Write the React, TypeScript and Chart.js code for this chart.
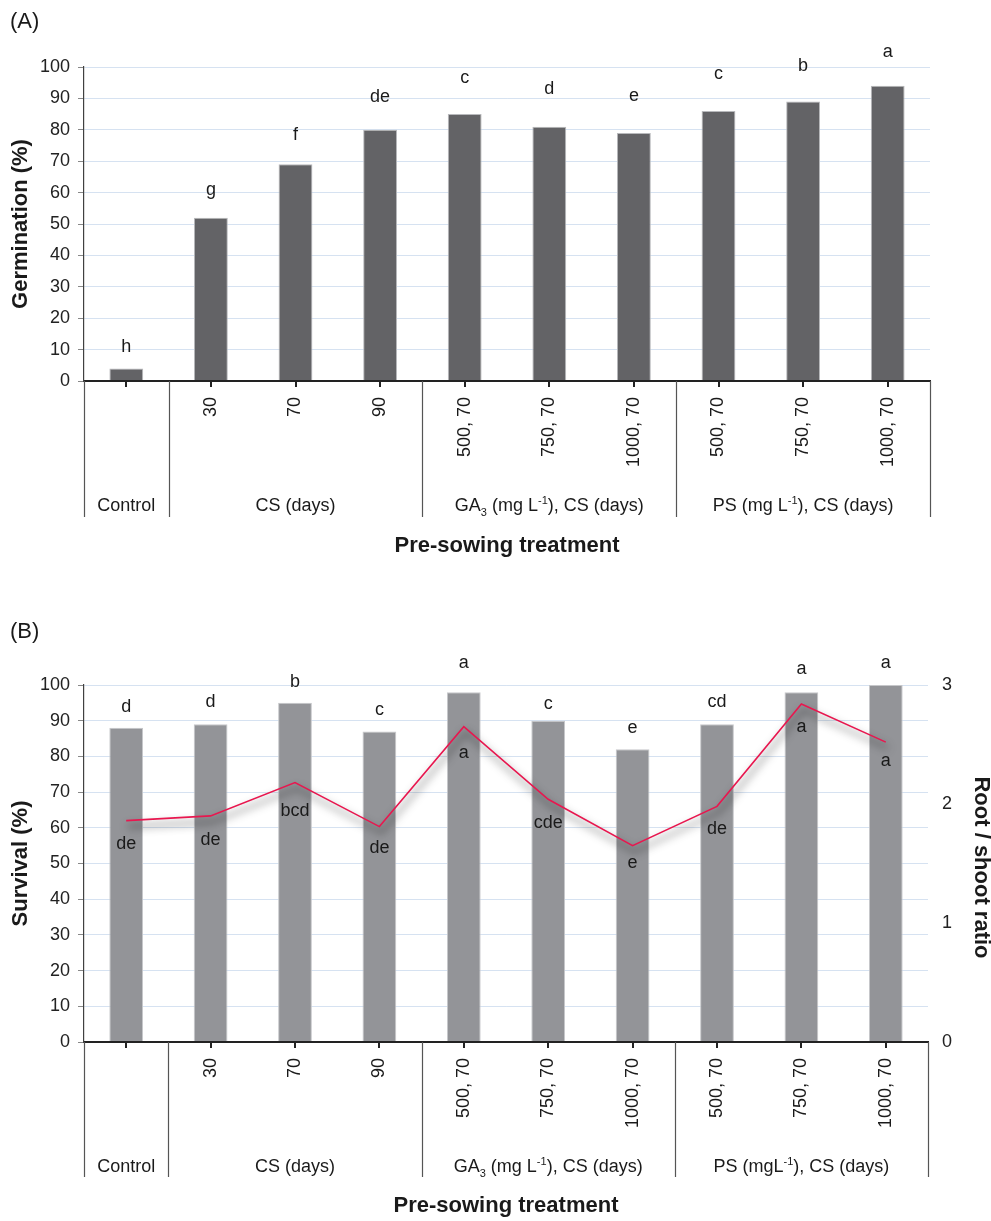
import React, { useEffect, useRef } from 'react';
import { Chart, registerables } from 'chart.js';

Chart.register(...registerables);

const FONT = "'Liberation Sans', Arial, Helvetica, sans-serif";

// ---------- data ----------
const categories = ['', '30', '70', '90', '500, 70', '750, 70', '1000, 70', '500, 70', '750, 70', '1000, 70'];
const groupSizes = [1, 3, 3, 3];

type Seg = { t: string; sub?: boolean; sup?: boolean };
const groupLabelsA: Seg[][] = [
  [{ t: 'Control' }],
  [{ t: 'CS (days)' }],
  [{ t: 'GA' }, { t: '3', sub: true }, { t: ' (mg L' }, { t: '-1', sup: true }, { t: '), CS (days)' }],
  [{ t: 'PS (mg L' }, { t: '-1', sup: true }, { t: '), CS (days)' }],
];
const groupLabelsB: Seg[][] = [
  [{ t: 'Control' }],
  [{ t: 'CS (days)' }],
  [{ t: 'GA' }, { t: '3', sub: true }, { t: ' (mg L' }, { t: '-1', sup: true }, { t: '), CS (days)' }],
  [{ t: 'PS (mgL' }, { t: '-1', sup: true }, { t: '), CS (days)' }],
];

const germination = [4, 52, 69, 80, 85, 81, 79, 86, 89, 94];
const germLetters = ['h', 'g', 'f', 'de', 'c', 'd', 'e', 'c', 'b', 'a'];
const germLetterPos = [10.7, 60.7, 78.3, 90.5, 96.4, 92.9, 90.7, 97.7, 100.2, 104.7];

const survival = [88, 89, 95, 87, 98, 90, 82, 89, 98, 100];
const survLetters = ['d', 'd', 'b', 'c', 'a', 'c', 'e', 'cd', 'a', 'a'];
const survLetterPos = [93.8, 95.2, 100.8, 93.0, 106.1, 94.8, 87.9, 95.2, 104.4, 106.1];

const ratio = [1.86, 1.9, 2.18, 1.81, 2.65, 2.04, 1.65, 1.98, 2.84, 2.52];
const ratioLetters = ['de', 'de', 'bcd', 'de', 'a', 'cde', 'e', 'de', 'a', 'a'];
const ratioLetterPos = [1.66, 1.7, 1.94, 1.63, 2.43, 1.84, 1.5, 1.79, 2.65, 2.36];

const pctMin = 0;
const pctMax = 100;
const pctStep = 10;
const ratioMin = 0;
const ratioMax = 3;
const ratioStep = 1;

// ---------- helpers ----------
function drawRich(ctx: CanvasRenderingContext2D, segs: Seg[], cx: number, cy: number, size: number) {
  const small = Math.round(size * 0.6);
  let total = 0;
  const widths: number[] = [];
  for (const s of segs) {
    ctx.font = `${s.sub || s.sup ? small : size}px ${FONT}`;
    const w = ctx.measureText(s.t).width;
    widths.push(w);
    total += w;
  }
  let x = cx - total / 2;
  const base = cy + size * 0.36;
  ctx.textAlign = 'left';
  ctx.textBaseline = 'alphabetic';
  segs.forEach((s, i) => {
    ctx.font = `${s.sub || s.sup ? small : size}px ${FONT}`;
    const dy = s.sub ? size * 0.25 : s.sup ? -size * 0.4 : 0;
    ctx.fillText(s.t, x, base + dy);
    x += widths[i];
  });
}

type DecorOpts = {
  panel: string;
  panelY: number;
  yTitle: string;
  y2Title?: string;
  groups: Seg[][];
  sepBottom: number;
  groupY: number;
  xTitleY: number;
  letterSets: { letters: string[]; pos: number[]; axis: string }[];
};

function makeDecor(o: DecorOpts) {
  return {
    id: 'decor',
    afterDraw(chart: any) {
      const ctx: CanvasRenderingContext2D = chart.ctx;
      const ca = chart.chartArea;
      const xs = chart.scales.x;
      ctx.save();
      ctx.fillStyle = '#1a1a1a';

      // panel label
      ctx.font = `22px ${FONT}`;
      ctx.textAlign = 'left';
      ctx.textBaseline = 'middle';
      ctx.fillText(o.panel, 10, o.panelY);

      // y titles
      const midY = (ca.top + ca.bottom) / 2;
      ctx.font = `bold 22px ${FONT}`;
      ctx.textAlign = 'center';
      ctx.save();
      ctx.translate(21, midY);
      ctx.rotate(-Math.PI / 2);
      ctx.fillText(o.yTitle, 0, 0);
      ctx.restore();
      if (o.y2Title) {
        ctx.save();
        ctx.translate(981, midY + 4);
        ctx.rotate(Math.PI / 2);
        ctx.fillText(o.y2Title, 0, 0);
        ctx.restore();
      }

      // category labels (rotated)
      ctx.font = `18px ${FONT}`;
      categories.forEach((c, i) => {
        const x = xs.getPixelForValue(i);
        ctx.save();
        ctx.translate(x, ca.bottom + 16);
        ctx.rotate(-Math.PI / 2);
        ctx.textAlign = 'right';
        ctx.textBaseline = 'middle';
        ctx.fillText(c, 0, 0);
        ctx.restore();
      });

      // group separators
      const bounds: number[] = [ca.left];
      let idx = 0;
      groupSizes.forEach((n, gi) => {
        idx += n;
        if (gi < groupSizes.length - 1) {
          bounds.push((xs.getPixelForValue(idx - 1) + xs.getPixelForValue(idx)) / 2);
        }
      });
      bounds.push(ca.right);
      ctx.strokeStyle = '#555';
      ctx.lineWidth = 1.2;
      bounds.forEach((bx) => {
        const px = Math.round(bx) + 0.5;
        ctx.beginPath();
        ctx.moveTo(px, ca.bottom);
        ctx.lineTo(px, o.sepBottom);
        ctx.stroke();
      });

      // group labels
      o.groups.forEach((g, gi) => {
        const cx = (bounds[gi] + bounds[gi + 1]) / 2;
        drawRich(ctx, g, cx, o.groupY, 18);
      });

      // x title
      ctx.font = `bold 22px ${FONT}`;
      ctx.textAlign = 'center';
      ctx.textBaseline = 'middle';
      ctx.fillText('Pre-sowing treatment', (ca.left + ca.right) / 2, o.xTitleY);

      // letters
      ctx.font = `18px ${FONT}`;
      o.letterSets.forEach((ls) => {
        const ys = chart.scales[ls.axis];
        ls.letters.forEach((l, i) => {
          ctx.fillText(l, xs.getPixelForValue(i), ys.getPixelForValue(ls.pos[i]));
        });
      });
      ctx.restore();
    },
  };
}

const shadowPlugin = {
  id: 'lineShadow',
  beforeDatasetDraw(chart: any, args: any) {
    const ds = chart.data.datasets[args.index];
    if (ds.type === 'line') {
      const ctx = chart.ctx;
      ctx.save();
      ctx.shadowColor = 'rgba(0,0,0,0.8)';
      ctx.shadowBlur = 8;
      ctx.shadowOffsetX = 2;
      ctx.shadowOffsetY = 6;
    }
  },
  afterDatasetDraw(chart: any, args: any) {
    const ds = chart.data.datasets[args.index];
    if (ds.type === 'line') chart.ctx.restore();
  },
};

const xScale = {
  type: 'category',
  offset: true,
  grid: { display: true, offset: false, drawOnChartArea: false, drawTicks: true, tickLength: 6, tickColor: '#222', lineWidth: 2 },
  border: { display: true, color: '#222', width: 2, z: 1 },
  ticks: { display: false },
  afterFit: (s: any) => { s.height = 20; },
};

const yPctScale = {
  min: pctMin,
  max: pctMax,
  ticks: { stepSize: pctStep, font: { size: 18, family: FONT }, color: '#222', padding: 8 },
  grid: { color: '#d6e2f1', lineWidth: 1, tickLength: 6, tickColor: '#888' },
  border: { color: '#404040', width: 1.2, z: 1 },
  afterFit: (s: any) => { s.width = 84; },
};

export default function App() {
  const refA = useRef<HTMLCanvasElement>(null);
  const refB = useRef<HTMLCanvasElement>(null);

  useEffect(() => {
    Chart.defaults.font.family = FONT;
    const chartA = new Chart(refA.current!, {
      type: 'bar',
      data: {
        labels: categories,
        datasets: [
          {
            data: germination,
            backgroundColor: '#636366',
            borderColor: '#b8b9bc',
            borderWidth: 1,
            barPercentage: 0.4,
            categoryPercentage: 1,
          },
        ],
      },
      options: {
        responsive: false,
        animation: false,
        plugins: { legend: { display: false }, tooltip: { enabled: false } },
        layout: { padding: { top: 67, bottom: 199, left: 0, right: 61 } },
        scales: { x: xScale as any, y: yPctScale as any },
      },
      plugins: [
        makeDecor({
          panel: '(A)',
          panelY: 22,
          yTitle: 'Germination (%)',
          groups: groupLabelsA,
          sepBottom: 517,
          groupY: 505,
          xTitleY: 546,
          letterSets: [{ letters: germLetters, pos: germLetterPos, axis: 'y' }],
        }),
      ],
    });

    const chartB = new Chart(refB.current!, {
      type: 'bar',
      data: {
        labels: categories,
        datasets: [
          {
            type: 'line',
            data: ratio,
            yAxisID: 'y2',
            borderColor: '#e8174f',
            borderWidth: 1.6,
            pointRadius: 0,
            tension: 0,
            fill: false,
            order: 0,
          } as any,
          {
            type: 'bar',
            data: survival,
            yAxisID: 'y',
            backgroundColor: '#939498',
            borderColor: '#c6c7ca',
            borderWidth: 1,
            barPercentage: 0.4,
            categoryPercentage: 1,
            order: 1,
          } as any,
        ],
      },
      options: {
        responsive: false,
        animation: false,
        plugins: { legend: { display: false }, tooltip: { enabled: false } },
        layout: { padding: { top: 85, bottom: 159, left: 0, right: 0 } },
        scales: {
          x: xScale as any,
          y: yPctScale as any,
          y2: {
            position: 'right',
            min: ratioMin,
            max: ratioMax,
            ticks: { stepSize: ratioStep, font: { size: 18, family: FONT }, color: '#222', padding: 14 },
            grid: { drawOnChartArea: false, drawTicks: false },
            border: { display: false },
            afterFit: (s: any) => { s.width = 63; },
          } as any,
        },
      },
      plugins: [
        shadowPlugin,
        makeDecor({
          panel: '(B)',
          panelY: 32,
          yTitle: 'Survival (%)',
          y2Title: 'Root / shoot ratio',
          groups: groupLabelsB,
          sepBottom: 577,
          groupY: 566,
          xTitleY: 606,
          letterSets: [
            { letters: survLetters, pos: survLetterPos, axis: 'y' },
            { letters: ratioLetters, pos: ratioLetterPos, axis: 'y2' },
          ],
        }),
      ],
    });

    return () => {
      chartA.destroy();
      chartB.destroy();
    };
  }, []);

  return (
    <div style={{ position: 'absolute', left: 0, top: 0, width: 991, height: 1221, background: '#fff' }}>
      <canvas ref={refA} width={991} height={600} style={{ position: 'absolute', left: 0, top: 0, display: 'block' }} />
      <canvas ref={refB} width={991} height={621} style={{ position: 'absolute', left: 0, top: 600, display: 'block' }} />
    </div>
  );
}
